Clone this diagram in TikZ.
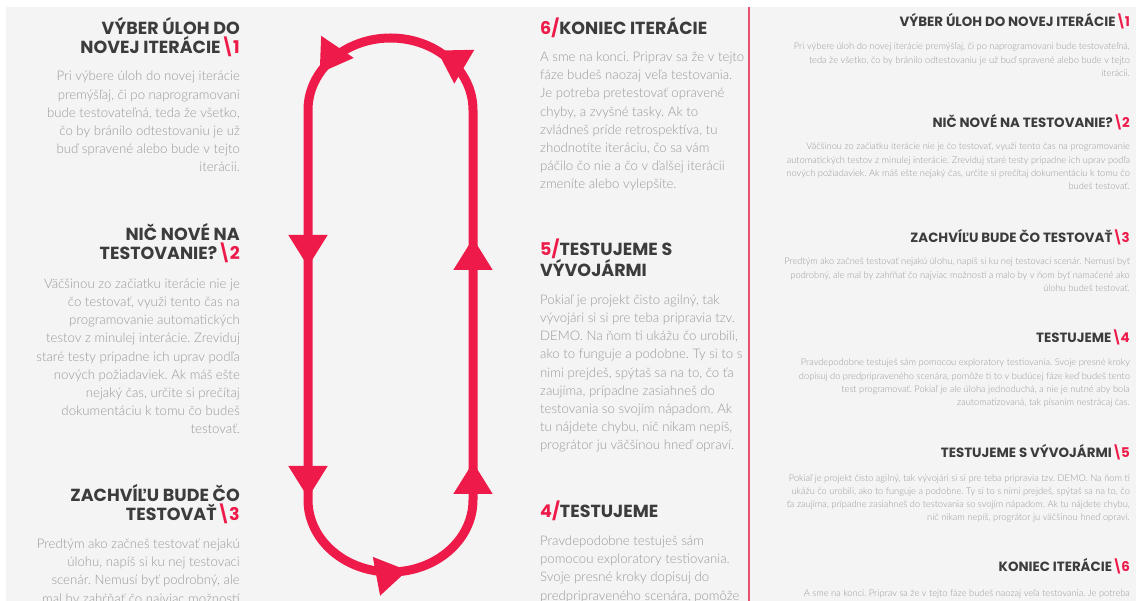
\documentclass[tikz,border=0pt]{standalone}
\usepackage{fontspec}
\usepackage{tikz}
\usetikzlibrary{arrows.meta, decorations.markings}
\usepackage{xcolor}

\newfontfamily\headfont{Poppins}
\IfFontExistsTF{Lato Light}{\newfontfamily\bodyfont{Lato Light}}{\newfontfamily\bodyfont{Lato}}
\frenchspacing

\definecolor{accent}{HTML}{EE1B4A}
\definecolor{headgray}{HTML}{3C3C3C}
\definecolor{bodygray}{HTML}{999999}
\definecolor{pagegray}{HTML}{F4F4F4}
\definecolor{divider}{HTML}{E8506E}

\newcommand{\stepR}[1]{{\color{accent}\textbackslash\kern-1.5pt#1}}
\newcommand{\stepL}[1]{{\color{accent}#1/}}

\begin{document}
\begin{tikzpicture}[x=1pt, y=1pt,
  lhead/.style={anchor=base east, align=right, inner sep=0pt, text=headgray,
    font=\headfont\bfseries\fontsize{17.5}{19}\selectfont},
  lbody/.style={anchor=base east, align=right, inner sep=0pt, text=bodygray,
    font=\bodyfont\fontsize{13.2}{18.2}\selectfont},
  mhead/.style={anchor=base west, align=left, inner sep=0pt, text=headgray,
    font=\headfont\bfseries\fontsize{17.5}{19}\selectfont},
  mbody/.style={anchor=base west, align=left, inner sep=0pt, text=bodygray,
    font=\bodyfont\fontsize{13.2}{18.2}\selectfont},
  rhead/.style={anchor=base east, align=right, inner sep=0pt, text=headgray,
    font=\headfont\bfseries\fontsize{13.4}{15}\selectfont},
  rbody/.style={anchor=base east, align=right, inner sep=0pt, text=bodygray,
    font=\bodyfont\fontsize{9.3}{13.2}\selectfont},
  loopline/.style={draw=accent, line width=9pt, line join=round}]
  \useasboundingbox (0,0) rectangle (1136,-601);
  \clip (0,0) rectangle (1136,-601);
  \fill[white] (0,0) rectangle (1136,-601);
  \fill[pagegray] (6,-7) rectangle (1136,-601);

  % cycle
  \draw[loopline, postaction={decorate}, decoration={markings,
      mark=at position 157pt with {\arrow{Triangle[length=32pt,width=37pt]}},
      mark=at position 388pt with {\arrow{Triangle[length=32pt,width=37pt]}},
      mark=at position 529pt with {\arrow{Triangle[length=32pt,width=37pt]}},
      mark=at position 671pt with {\arrow{Triangle[length=32pt,width=37pt]}},
      mark=at position 895pt with {\arrow{Triangle[length=32pt,width=37pt]}},
      mark=at position 1096pt with {\arrow{Triangle[length=32pt,width=37pt]}},
      mark=at position 1227pt with {\arrow{Triangle[length=32pt,width=37pt]}}}]
    (308,-110) -- (308,-500)
    arc[start angle=180, end angle=360, x radius=82.5, y radius=72]
    -- (473,-110)
    arc[start angle=0, end angle=180, x radius=82.5, y radius=72] -- cycle;

  % left column (nodes sit on the baseline of their last line)
  \node[lhead] (head1) at (240,-54) {VÝBER ÚLOH DO\\NOVEJ ITERÁCIE\stepR{1}};
  \node[lbody] (body1) at (240,-172) {Pri výbere úloh do novej iterácie\\
    premýšľaj, či po naprogramovani\\bude testovateľná, teda že všetko,\\
    čo by bránilo odtestovaniu je už\\buď spravené alebo bude v tejto\\iterácii.};
  \node[lhead] (head2) at (240,-260) {NIČ NOVÉ NA\\TESTOVANIE?\stepR{2}};
  \node[lbody] (body2) at (240,-434) {Väčšinou zo začiatku iterácie nie je\\
    čo testovať, využi tento čas na\\programovanie automatických\\
    testov z minulej interácie. Zreviduj\\staré testy pripadne ich uprav podľa\\
    nových požiadaviek. Ak máš ešte\\nejaký čas, určite si prečítaj\\
    dokumentáciu k tomu čo budeš\\testovať.};
  \node[lhead] (head3) at (240,-521) {ZACHVÍĽU BUDE ČO\\TESTOVAŤ\stepR{3}};
  \node[lbody] (body3) at (240,-603) {Predtým ako začneš testovať nejakú\\
    úlohu, napíš si ku nej testovaci\\scenár. Nemusí byť podrobný, ale\\
    mal by zahŕňať čo najviac možností};

  % middle column
  \node[mhead] (head6) at (540,-35) {\stepL{6}KONIEC ITERÁCIE};
  \node[mbody] (body6) at (540,-189) {A sme na konci. Priprav sa že v tejto\\
    fáze budeš naozaj veľa testovania.\\Je potreba pretestovať opravené\\
    chyby, a zvyšné tasky. Ak to\\zvládneš príde retrospektíva, tu\\
    zhodnotíte iteráciu, čo sa vám\\páčilo čo nie a čo v ďalšej iterácii\\
    zmeníte alebo vylepšíte.};
  \node[mhead] (head5) at (540,-277) {\stepL{5}TESTUJEME S\\VÝVOJÁRMI};
  \node[mbody] (body5) at (540,-450) {Pokiaľ je projekt čisto agilný, tak\\
    vývojári si si pre teba pripravia tzv.\\DEMO. Na ňom ti ukážu čo urobili,\\
    ako to funguje a podobne. Ty si to s\\nimi prejdeš, spýtaš sa na to, čo ťa\\
    zaujíma, prípadne zasiahneš do\\testovania so svojím nápadom. Ak\\
    tu nájdete chybu, nič nikam nepíš,\\prográtor ju väčšinou hneď opraví.};
  \node[mhead] (head4) at (540,-518) {\stepL{4}TESTUJEME};
  \node[mbody] (body4) at (540,-600) {Pravdepodobne testuješ sám\\
    pomocou exploratory testiovania.\\Svoje presné kroky dopisuj do\\
    predpripraveného scenára, pomôže};

  % divider
  \draw[divider, line width=1.5pt] (749,-7) -- (749,-601);

  % right column
  \node[rhead] (rhead1) at (1130,-27) {VÝBER ÚLOH DO NOVEJ ITERÁCIE\stepR{1}};
  \node[rbody] (rbody1) at (1130,-76.4) {Pri výbere úloh do novej iterácie premýšľaj, či po naprogramovani bude testovateľná,\\
    teda že všetko, čo by bránilo odtestovaniu je už buď spravené alebo bude v tejto\\iterácii.};
  \node[rhead] (rhead2) at (1130,-128) {NIČ NOVÉ NA TESTOVANIE?\stepR{2}};
  \node[rbody] (rbody2) at (1130,-189.6) {Väčšinou zo začiatku iterácie nie je čo testovať, využi tento čas na programovanie\\
    automatických testov z minulej interácie. Zreviduj staré testy pripadne ich uprav podľa\\
    nových požiadaviek. Ak máš ešte nejaký čas, určite si prečítaj dokumentáciu k tomu čo\\budeš testovať.};
  \node[rhead] (rhead3) at (1130,-243) {ZACHVÍĽU BUDE ČO TESTOVAŤ\stepR{3}};
  \node[rbody] (rbody3) at (1130,-291.4) {Predtým ako začneš testovať nejakú úlohu, napíš si ku nej testovaci scenár. Nemusí byť\\
    podrobný, ale mal by zahŕňať čo najviac možností a malo by v ňom byť namačené ako\\úlohu budeš testovať.};
  \node[rhead] (rhead4) at (1130,-343) {TESTUJEME\stepR{4}};
  \node[rbody] (rbody4) at (1130,-405.6) {Pravdepodobne testuješ sám pomocou exploratory testiovania. Svoje presné kroky\\
    dopisuj do predpripraveného scenára, pomôže ti to v budúcej fáze keď budeš tento\\
    test programovať. Pokiaľ je ale úloha jednoduchá, a nie je nutné aby bola\\
    zautomatizovaná, tak písaním nestrácaj čas.};
  \node[rhead] (rhead5) at (1130,-458) {TESTUJEME S VÝVOJÁRMI\stepR{5}};
  \node[rbody] (rbody5) at (1130,-520.6) {Pokiaľ je projekt čisto agilný, tak vývojári si si pre teba pripravia tzv. DEMO. Na ňom ti\\
    ukážu čo urobili, ako to funguje a podobne. Ty si to s nimi prejdeš, spýtaš sa na to, čo\\
    ťa zaujíma, prípadne zasiahneš do testovania so svojím nápadom. Ak tu nájdete chybu,\\
    nič nikam nepíš, prográtor ju väčšinou hneď opraví.};
  \node[rhead] (rhead6) at (1130,-572) {KONIEC ITERÁCIE\stepR{6}};
  \node[rbody] (rbody6) at (1130,-596) {A sme na konci. Priprav sa že v tejto fáze budeš naozaj veľa testovania. Je potreba};
\end{tikzpicture}
\end{document}
